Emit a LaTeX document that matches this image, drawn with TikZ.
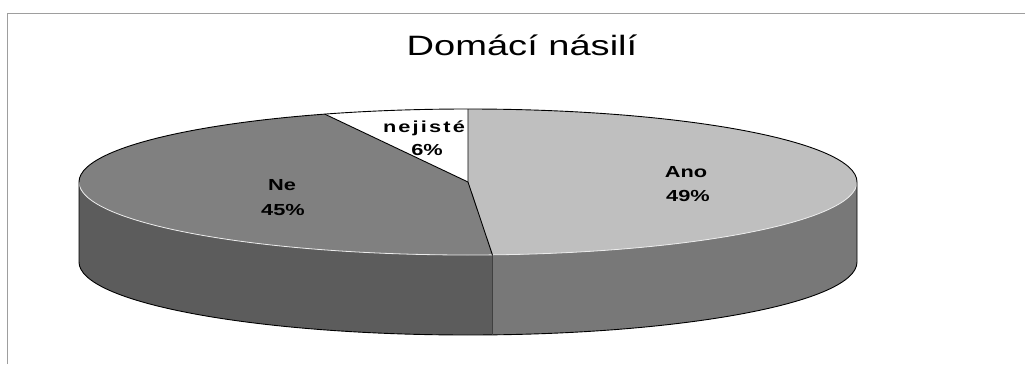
\documentclass[tikz,border=0pt]{standalone}
\usepackage{fontspec}
\setmainfont{Liberation Sans}
\usepackage{graphicx}
\usetikzlibrary{positioning}

\definecolor{anotop}{gray}{0.75}
\definecolor{netop}{gray}{0.50}
\definecolor{anoside}{gray}{0.47}
\definecolor{neside}{gray}{0.36}
\definecolor{framegray}{gray}{0.62}

\newcommand{\stretchtxt}[1]{\scalebox{1.36}[1]{#1}}

\tikzset{
  lbl/.style={font=\bfseries\fontsize{16}{18}\selectfont, inner sep=0pt, anchor=base},
  rim/.style={black, line width=0.9pt},
  pie/.style={x radius=389, y radius=73},
}

\begin{document}
\begin{tikzpicture}[x=1pt, y=1pt]
        \useasboundingbox (0,0) rectangle (1025,-364);

        % Frame and title
        \draw[framegray, line width=0.8pt] (7,-364) -- (7,-13) -- (1025,-13);
        \node[anchor=base, inner sep=0pt, font=\fontsize{28}{30}\selectfont] (title) at (522,-55) {\stretchtxt{Domácí násilí}};

        \begin{scope}[shift={(468,-182)}]
        % Side walls
        \fill[neside] (180:389 and 73) -- ++(0,-80) arc[pie, start angle=180, end angle=273.6] -- ++(0,80) arc[pie, start angle=273.6, end angle=180] -- cycle;
        \fill[anoside] (273.6:389 and 73) -- ++(0,-80) arc[pie, start angle=273.6, end angle=360] -- ++(0,80) arc[pie, start angle=360, end angle=273.6] -- cycle;

        % Slices on top
        \fill[anotop] (0,0) -- (90:389 and 73) arc[pie, start angle=90, end angle=-86.4] -- cycle;
        \fill[netop] (0,0) -- (-86.4:389 and 73) arc[pie, start angle=-86.4, end angle=-248.4] -- cycle;
        \fill[white] (0,0) -- (111.6:389 and 73) arc[pie, start angle=111.6, end angle=90] -- cycle;

        % Outlines
        \draw[white!85!gray, line width=0.8pt] (180:389 and 73) arc[pie, start angle=180, end angle=360];
        \draw[rim] (0:389 and 73) arc[pie, start angle=0, end angle=180];
        \draw[rim] (180:389 and 73) -- ++(0,-80) arc[pie, start angle=180, end angle=360] -- ++(0,80);
        \draw[black!75, line width=0.6pt] (-86.4:389 and 73) -- ++(0,-80);
        \draw[rim] (-86.4:389 and 73) -- (0,0) -- (90:389 and 73);
        \draw[rim] (0,0) -- (111.6:389 and 73);
        \end{scope}

        % Labels
        \node[lbl] (ano) at (686,-177) {\stretchtxt{Ano}};
        \node[lbl] (anopct) at (688,-201) {\stretchtxt{49\%}};
        \node[lbl] (ne) at (282,-190) {\stretchtxt{Ne}};
        \node[lbl] (nepct) at (283,-215) {\stretchtxt{45\%}};
        \node[lbl] (nejiste) at (424,-132) {\stretchtxt{\addfontfeature{LetterSpace=10}nejisté}};
        \node[lbl] (nejistepct) at (427,-155) {\stretchtxt{6\%}};
\end{tikzpicture}
\end{document}
